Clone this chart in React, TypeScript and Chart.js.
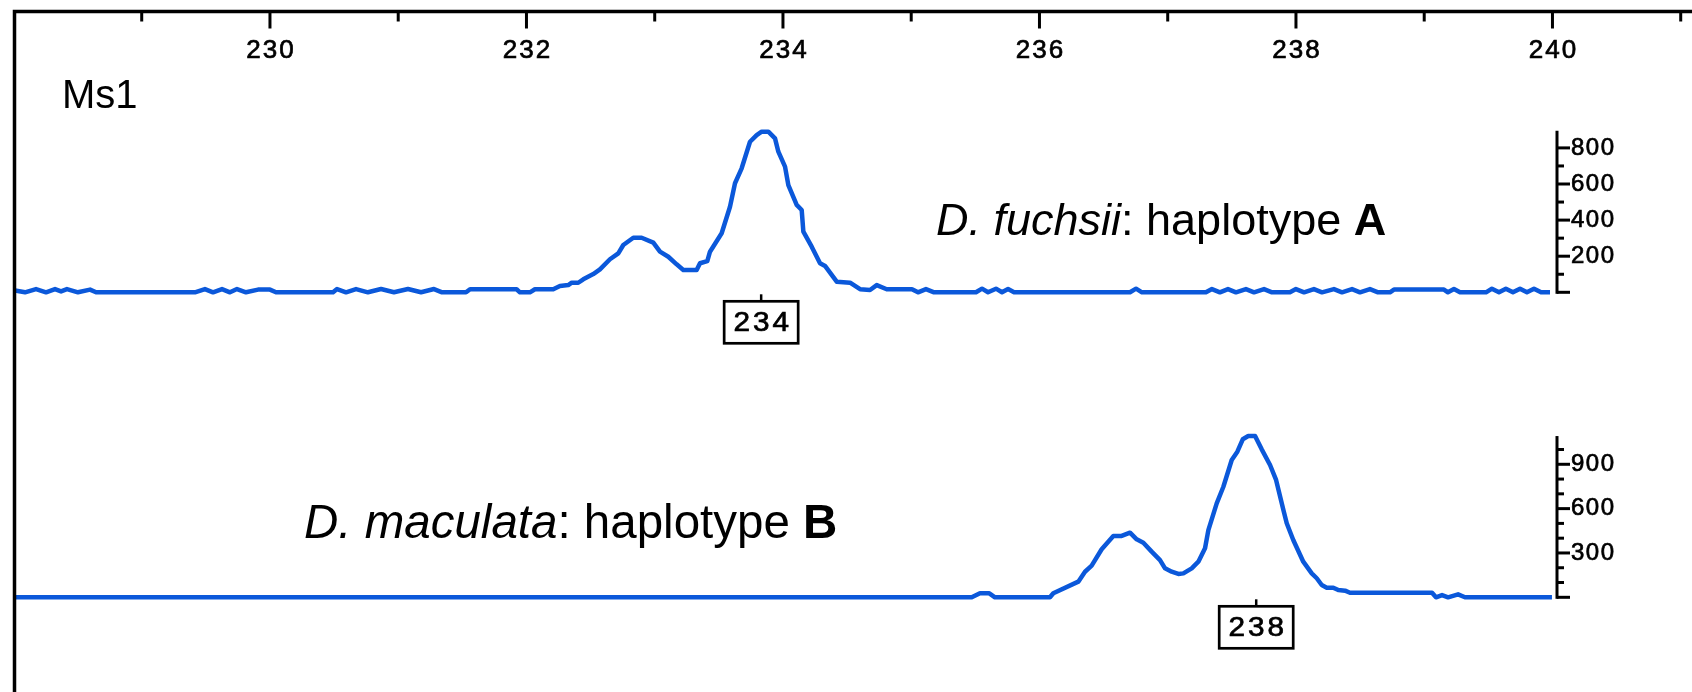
import React, { useEffect, useRef } from 'react';
import { Chart, registerables } from 'chart.js';

Chart.register(...registerables);

// Fragment size axis (bp)
const sizeTicks = [228, 229, 230, 231, 232, 233, 234, 235, 236, 237, 238, 239, 240, 241];
const sizeLabels = [230, 232, 234, 236, 238, 240];

// Ms1 electropherogram, D. fuchsii (haplotype A)
const upperSizes = [
  228.012, 228.09, 228.176, 228.254, 228.324, 228.371, 228.417, 228.503, 228.597, 228.644,
  229.415, 229.493, 229.556, 229.626, 229.688, 229.743, 229.813, 229.907, 230.0, 230.047,
  230.492, 230.523, 230.593, 230.671, 230.764, 230.866, 230.967, 231.076, 231.178, 231.279,
  231.342, 231.529, 231.56, 231.923, 231.949, 232.027, 232.066, 232.209, 232.261, 232.326,
  232.353, 232.404, 232.443, 232.521, 232.573, 232.651, 232.716, 232.755, 232.833, 232.898,
  232.989, 233.041, 233.106, 233.171, 233.223, 233.327, 233.353, 233.41, 233.431, 233.522,
  233.587, 233.626, 233.678, 233.743, 233.795, 233.834, 233.886, 233.938, 233.964, 234.016,
  234.042, 234.107, 234.146, 234.159, 234.224, 234.289, 234.328, 234.419, 234.523, 234.601,
  234.679, 234.731, 234.809, 234.913, 235.006, 235.053, 235.115, 235.178, 235.505, 235.552,
  235.599, 235.661, 235.708, 235.755, 235.802, 236.706, 236.753, 236.799, 237.298, 237.345,
  237.407, 237.47, 237.532, 237.61, 237.673, 237.751, 237.813, 237.953, 238.0, 238.063,
  238.14, 238.203, 238.296, 238.359, 238.437, 238.499, 238.577, 238.64, 238.733, 238.764,
  239.154, 239.185, 239.232, 239.279, 239.482, 239.528, 239.583, 239.637, 239.692, 239.747,
  239.801, 239.856, 239.911, 239.981,
];
const upperHeights = [
  10, 0, 18, 0, 18, 5, 18, 0, 15, 0,
  0, 18, 0, 18, 0, 18, 0, 15, 15, 0,
  0, 18, 0, 18, 0, 18, 0, 18, 0, 18,
  0, 0, 17, 17, 0, 0, 17, 17, 35, 40,
  53, 53, 72, 101, 127, 183, 216, 262, 302, 302,
  275, 225, 197, 155, 124, 124, 161, 173, 225, 327,
  474, 604, 687, 834, 871, 890, 890, 853, 779, 696,
  594, 484, 456, 336, 253, 161, 146, 59, 53, 17,
  13, 40, 17, 17, 17, 0, 18, 0, 0, 20,
  0, 20, 0, 18, 0, 0, 20, 0, 0, 18,
  0, 18, 0, 18, 0, 18, 0, 0, 18, 0,
  18, 0, 18, 0, 18, 0, 18, 0, 0, 15,
  15, 0, 18, 0, 0, 20, 0, 20, 0, 20,
  0, 20, 0, 0,
];

// Ms1 electropherogram, D. maculata (haplotype B)
const lowerSizes = [
  228.0, 235.472, 235.536, 235.609, 235.653, 236.082, 236.108, 236.303, 236.355, 236.407,
  236.485, 236.576, 236.641, 236.706, 236.758, 236.81, 236.875, 236.94, 236.979, 237.031,
  237.083, 237.122, 237.187, 237.239, 237.291, 237.317, 237.382, 237.434, 237.499, 237.543,
  237.585, 237.628, 237.681, 237.733, 237.798, 237.845, 237.902, 237.928, 237.979, 238.057,
  238.123, 238.162, 238.201, 238.24, 238.291, 238.33, 238.383, 238.421, 238.811, 239.061,
  239.092, 239.139, 239.186, 239.264, 239.318, 239.996,
];
const lowerHeights = [
  0, 0, 27, 27, 0, 0, 27, 106, 173, 214,
  325, 415, 415, 437, 392, 369, 309, 252, 196, 173,
  158, 162, 196, 241, 332, 455, 636, 748, 929, 985,
  1069, 1091, 1091, 1001, 895, 794, 591, 501, 388, 241,
  162, 129, 83, 65, 65, 49, 45, 31, 31, 31,
  0, 15, 0, 20, 0, 0,
];

// Called peak sizes (bp), one per panel
const peakSizes = [233.83, 237.69];

// Right-hand RFU axes: minor step, labelled step
const upperRfuTicks = { step: 100, labelStep: 200 };
const lowerRfuTicks = { step: 100, labelStep: 300 };

const locusName = 'Ms1';
const upperCaption = [
  { text: 'D. fuchsii', style: 'italic' },
  { text: ': haplotype ', style: 'normal' },
  { text: 'A', style: 'bold' },
];
const lowerCaption = [
  { text: 'D. maculata', style: 'italic' },
  { text: ': haplotype ', style: 'normal' },
  { text: 'B', style: 'bold' },
];

const TRACE = '#0b58da';
const FAMILY = '"Liberation Sans", Arial, Helvetica, sans-serif';

function toPoints(xs: number[], ys: number[]) {
  return xs.map((x, i) => ({ x, y: ys[i] }));
}

// Tracked digits for scale and call labels, with a hairline stroke for weight
function drawTracked(
  ctx: CanvasRenderingContext2D,
  text: string,
  x: number,
  y: number,
  align: 'left' | 'center',
  size: number,
  sx: number,
  spacing: number,
) {
  ctx.font = `${size}px ${FAMILY}`;
  ctx.textAlign = 'left';
  ctx.textBaseline = 'middle';
  const chars = [...text];
  const widths = chars.map((c) => ctx.measureText(c).width * sx);
  const total = widths.reduce((a, b) => a + b, 0) + spacing * (chars.length - 1);
  let cx = align === 'center' ? x - total / 2 : x;
  chars.forEach((c, i) => {
    ctx.save();
    ctx.translate(cx, y);
    ctx.scale(sx, 1);
    ctx.fillText(c, 0, 0);
    ctx.lineWidth = 0.7;
    ctx.strokeText(c, 0, 0);
    ctx.restore();
    cx += widths[i] + spacing;
  });
}

function drawCaption(
  ctx: CanvasRenderingContext2D,
  parts: { text: string; style: string }[],
  x: number,
  y: number,
  size: number,
) {
  ctx.textAlign = 'left';
  ctx.textBaseline = 'alphabetic';
  let cx = x;
  for (const p of parts) {
    const prefix = p.style === 'italic' ? 'italic ' : p.style === 'bold' ? 'bold ' : '';
    ctx.font = `${prefix}${size}px ${FAMILY}`;
    ctx.fillText(p.text, cx, y);
    cx += ctx.measureText(p.text).width;
  }
}

const decorations = {
  id: 'decorations',
  afterDatasetsDraw(chart: any) {
    const ctx: CanvasRenderingContext2D = chart.ctx;
    const xs = chart.scales.x;
    const yA = chart.scales.yA;
    const yB = chart.scales.yB;
    const W = chart.width;
    const H = chart.height;
    ctx.save();
    ctx.strokeStyle = '#000';
    ctx.fillStyle = '#000';
    ctx.lineCap = 'butt';

    // frame: left and top edges
    const frameTop = 11.5;
    ctx.lineWidth = 3.5;
    ctx.beginPath();
    ctx.moveTo(14.5, H);
    ctx.lineTo(14.5, frameTop);
    ctx.lineTo(W, frameTop);
    ctx.stroke();

    // size ticks hanging from the top edge
    ctx.lineWidth = 3;
    for (const v of sizeTicks) {
      const px = xs.getPixelForValue(v);
      if (px < 20 || px > W - 2) continue;
      const len = v % 2 === 0 ? 17 : 10;
      ctx.beginPath();
      ctx.moveTo(px, frameTop);
      ctx.lineTo(px, frameTop + len);
      ctx.stroke();
    }
    for (const v of sizeLabels) {
      drawTracked(ctx, String(v), xs.getPixelForValue(v), 51, 'center', 26, 1.0, 2);
    }

    // RFU axes on the right of each panel
    const axisX = 1557;
    const drawRfuAxis = (scale: any, top: number, step: number, labelStep: number) => {
      const y0 = scale.getPixelForValue(0);
      ctx.lineWidth = 3;
      ctx.beginPath();
      ctx.moveTo(axisX, y0 + 1.5);
      ctx.lineTo(axisX, scale.getPixelForValue(top));
      ctx.stroke();
      for (let v = 0; v <= top - 30; v += step) {
        const py = scale.getPixelForValue(v);
        const major = v % labelStep === 0;
        ctx.lineWidth = 3;
        ctx.beginPath();
        ctx.moveTo(axisX, py);
        ctx.lineTo(axisX + (major ? 13 : 7), py);
        ctx.stroke();
        if (major && v > 0) drawTracked(ctx, String(v), axisX + 14, py, 'left', 24, 1.0, 1.5);
      }
    };
    drawRfuAxis(yA, Math.max(...upperHeights) + 5, upperRfuTicks.step, upperRfuTicks.labelStep);
    drawRfuAxis(yB, Math.max(...lowerHeights), lowerRfuTicks.step, lowerRfuTicks.labelStep);

    // allele call boxes under each peak
    [yA, yB].forEach((scale, i) => {
      const px = xs.getPixelForValue(peakSizes[i]);
      const base = scale.getPixelForValue(0);
      const bw = 74;
      const bh = 42;
      const top = base + 9;
      ctx.lineWidth = 2.5;
      ctx.beginPath();
      ctx.moveTo(px, base + 2);
      ctx.lineTo(px, top);
      ctx.stroke();
      ctx.fillStyle = '#fff';
      ctx.fillRect(px - bw / 2, top, bw, bh);
      ctx.fillStyle = '#000';
      ctx.lineWidth = 2.7;
      ctx.strokeRect(px - bw / 2, top, bw, bh);
      drawTracked(ctx, String(Math.round(peakSizes[i])), px, top + bh / 2 + 1, 'center', 27, 1.1, 3);
    });

    // locus name and panel captions
    ctx.font = `40px ${FAMILY}`;
    ctx.textAlign = 'left';
    ctx.textBaseline = 'alphabetic';
    ctx.fillText(locusName, 62, 108);
    drawCaption(ctx, upperCaption, 936, 235, 45);
    drawCaption(ctx, lowerCaption, 304, 538, 47.5);

    ctx.restore();
  },
};

export default function App() {
  const canvasRef = useRef<HTMLCanvasElement | null>(null);

  useEffect(() => {
    const canvas = canvasRef.current;
    if (!canvas) return;
    const lineStyle = {
      borderColor: TRACE,
      borderWidth: 4.5,
      pointRadius: 0,
      tension: 0,
      fill: false,
      borderJoinStyle: 'round' as const,
    };
    const chart = new Chart(canvas, {
      type: 'line',
      data: {
        datasets: [
          { ...lineStyle, label: 'D. fuchsii', data: toPoints(upperSizes, upperHeights), yAxisID: 'yA' },
          { ...lineStyle, label: 'D. maculata', data: toPoints(lowerSizes, lowerHeights), yAxisID: 'yB' },
        ],
      },
      options: {
        responsive: false,
        animation: false,
        devicePixelRatio: 1,
        layout: { padding: 0 },
        plugins: { legend: { display: false }, tooltip: { enabled: false }, title: { display: false } },
        scales: {
          x: { type: 'linear', min: 227.895, max: 241.088, display: false },
          yA: { type: 'linear', min: -2214.4, max: 1619.4, display: false },
          yB: { type: 'linear', min: -640.7, max: 4041.3, display: false },
        },
      },
      plugins: [decorations],
    });
    return () => chart.destroy();
  }, []);

  return (
    <div style={{ position: 'absolute', left: 0, top: 0, width: 1692, height: 692, background: '#fff' }}>
      <canvas ref={canvasRef} width={1692} height={692} />
    </div>
  );
}
